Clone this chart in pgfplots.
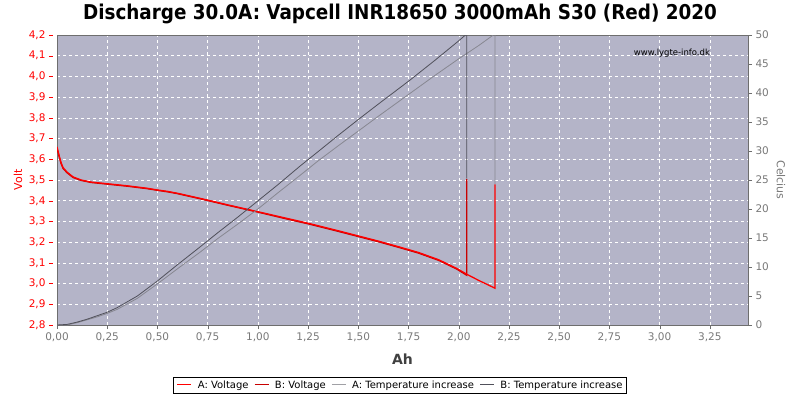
\documentclass[border=0pt]{standalone}
\usepackage{pgfplots}
\usepackage{pgfplotstable}
\pgfplotsset{compat=1.18}
\usepackage{fontspec}
\setmainfont{DejaVu Sans}
\newfontfamily\titlefont{DejaVu Sans Condensed}

\definecolor{bgc}{RGB}{180,180,200}
\definecolor{redA}{RGB}{255,0,0}
\definecolor{redB}{RGB}{200,0,0}
\definecolor{grayA}{RGB}{135,135,145}
\definecolor{grayB}{RGB}{80,80,90}
\definecolor{grayL}{RGB}{160,160,165}
\definecolor{axgray}{RGB}{110,110,110}
\definecolor{lblgray}{RGB}{120,120,120}

\newcommand{\legline}[1]{\textcolor{#1}{\rule[0.3em]{14pt}{1.6pt}}}

\pgfplotstableread{
ah v
0.00 3.660
0.01 3.620
0.02 3.585
0.03 3.560
0.05 3.538
0.08 3.515
0.12 3.500
0.17 3.490
0.25 3.482
0.35 3.472
0.40 3.466
0.45 3.460
0.50 3.452
0.55 3.445
0.60 3.436
0.65 3.425
0.71 3.412
0.85 3.380
1.00 3.347
1.13 3.318
1.26 3.289
1.40 3.255
1.50 3.230
1.60 3.205
1.70 3.178
1.80 3.150
1.90 3.115
1.99 3.073
2.04 3.045
2.10 3.015
2.18 2.978
2.18 3.479
}\voltA

\pgfplotstableread{
ah v
0.00 3.655
0.01 3.615
0.02 3.580
0.03 3.556
0.05 3.535
0.08 3.512
0.12 3.498
0.17 3.488
0.25 3.480
0.35 3.470
0.40 3.464
0.45 3.458
0.50 3.450
0.55 3.443
0.60 3.434
0.65 3.423
0.71 3.410
0.85 3.378
1.00 3.345
1.13 3.315
1.26 3.286
1.40 3.252
1.50 3.227
1.60 3.202
1.70 3.175
1.80 3.147
1.90 3.112
1.99 3.070
2.04 3.040
2.04 3.506
}\voltB

\pgfplotstableread{
ah t
0.00 0.0
0.05 0.0
0.10 0.4
0.15 0.9
0.20 1.4
0.25 2.0
0.30 2.7
0.40 4.6
0.50 7.1
0.60 9.7
0.71 12.5
0.80 14.9
0.90 17.4
1.00 20.0
1.10 22.8
1.21 25.8
1.30 28.3
1.40 30.9
1.51 33.7
1.60 36.0
1.76 40.0
1.88 43.0
2.00 45.9
2.10 48.2
2.18 50.2
2.18 24.3
}\tempA

\pgfplotstableread{
ah t
0.00 0.0
0.05 0.1
0.10 0.5
0.15 1.0
0.20 1.6
0.25 2.2
0.30 3.0
0.40 5.0
0.50 7.6
0.60 10.4
0.71 13.4
0.80 15.9
0.90 18.6
1.00 21.4
1.10 24.2
1.21 27.4
1.30 29.9
1.40 32.7
1.51 35.7
1.60 38.1
1.76 42.3
1.88 45.6
2.00 49.0
2.04 50.2
2.04 25.3
}\tempB

\begin{document}
\begin{tikzpicture}[x=1pt,y=1pt]
\useasboundingbox (0,0) rectangle (800,400);
\node[font=\titlefont\bfseries\fontsize{20.4}{22}\selectfont] at (400,386) {Discharge 30.0A: Vapcell INR18650 3000mAh S30 (Red) 2020};

\begin{axis}[
    at={(57pt,75pt)}, anchor=south west,
    width=691pt, height=290pt, scale only axis,
    xmin=0, xmax=3.44,
    ymin=2.8, ymax=4.2,
    xtick={0,0.25,...,3.25},
    ytick={2.8,2.9,...,4.21},
    xtick pos=bottom, ytick pos=left,
    tick align=outside,
    major tick length=4pt,
    axis line style={axgray},
    axis background/.style={fill=bgc},
    grid=major,
    grid style={white, dashed, line width=0.5pt},
    xtick style={axgray},
    ytick style={red, xshift=-4pt},
    ticklabel style={font=\fontsize{10.5}{12}\selectfont},
    xticklabel style={lblgray},
    yticklabel style={red, xshift=-4pt},
    /pgf/number format/assume math mode=true,
    xticklabel={\pgfmathprintnumber[fixed, fixed zerofill, precision=2, use comma]{\tick}},
    yticklabel={\pgfmathprintnumber[fixed, fixed zerofill, precision=1, use comma]{\tick}},
    xlabel={\textbf{Ah}},
    xlabel style={at={([yshift=-34pt]rel axis cs:0.5,0)}, anchor=center, font=\fontsize{14}{16}\selectfont, black!75},
    ylabel={Volt},
    ylabel style={at={([xshift=-39pt]rel axis cs:0,0.5)}, anchor=center, font=\fontsize{11}{13}\selectfont, red},
]
\addplot[redB, line width=1.3pt] table[x=ah, y=v] {\voltB};
\addplot[redA, line width=1.3pt] table[x=ah, y=v] {\voltA};
\draw[red, line width=0.8pt] ([xshift=-4pt]rel axis cs:0,0) -- ([xshift=-4pt]rel axis cs:0,1);
\node[font=\fontsize{8.5}{10}\selectfont, black] at (rel axis cs:0.8900,0.9380) {www.lygte-info.dk};
\end{axis}

\begin{axis}[
    at={(57pt,75pt)}, anchor=south west,
    width=691pt, height=290pt, scale only axis,
    xmin=0, xmax=3.44,
    ymin=0, ymax=50,
    axis x line=none,
    axis y line*=right,
    ytick={0,5,...,50},
    tick align=outside,
    major tick length=4pt,
    axis line style={axgray},
    ytick style={axgray},
    yticklabel style={lblgray, font=\fontsize{10.5}{12}\selectfont},
    /pgf/number format/assume math mode=true,
    ylabel={Celcius},
    ylabel style={at={([xshift=33pt]rel axis cs:1,0.5)}, anchor=center, rotate=180, font=\fontsize{11}{13}\selectfont, lblgray},
]
\addplot[grayA, line width=0.8pt] table[x=ah, y=t] {\tempA};
\addplot[grayB, line width=0.8pt] table[x=ah, y=t] {\tempB};
\end{axis}

% legend box below the axis
\node[draw=black, fill=white, inner xsep=4pt, inner ysep=3pt, font=\fontsize{10}{12}\selectfont] at (400,14.5)
  {\legline{redA}\ \ A: Voltage\hspace{6pt}\legline{redB}\ \ B: Voltage\hspace{6pt}\legline{grayL}\ \ A: Temperature increase\hspace{6pt}\legline{grayB}\ \ B: Temperature increase};
\end{tikzpicture}
\end{document}
